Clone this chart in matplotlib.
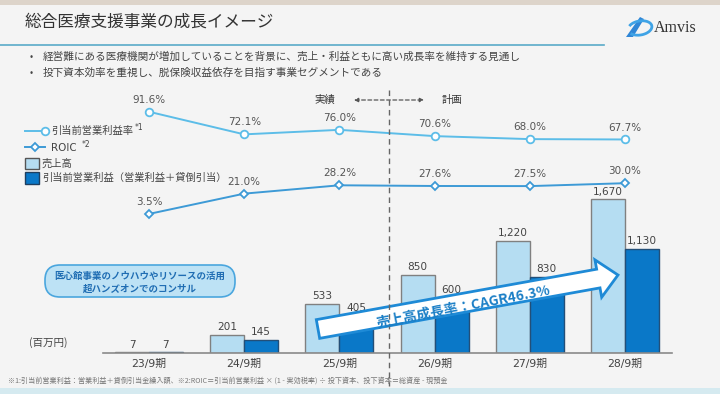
import matplotlib
matplotlib.use("Agg")
import numpy as np
import matplotlib.pyplot as plt
from matplotlib.patches import FancyArrow, FancyBboxPatch, Rectangle, Polygon, Arc

JP = ['Noto Sans CJK JP', 'DejaVu Sans']
NUM = ['DejaVu Sans', 'Noto Sans CJK JP']
plt.rcParams['font.family'] = JP

# data
periods = ['23/9期', '24/9期', '25/9期', '26/9期', '27/9期', '28/9期']
sales = [7, 201, 533, 850, 1220, 1670]            # 売上高 (百万円)
profit = [7, 145, 405, 600, 830, 1130]            # 引当前営業利益 (百万円)
margin = [91.6, 72.1, 76.0, 70.6, 68.0, 67.7]     # 引当前営業利益率 (%)
roic = [3.5, 21.0, 28.2, 27.6, 27.5, 30.0]        # ROIC (%)

title = '総合医療支援事業の成長イメージ'
bullets = ['経営難にある医療機関が増加していることを背景に、売上・利益ともに高い成長率を維持する見通し',
           '投下資本効率を重視し、脱保険収益依存を目指す事業セグメントである']
footnote = ('※1:引当前営業利益：営業利益＋貸倒引当金繰入額、※2:ROIC＝引当前営業利益 × (1 - 実効税率) '
            '÷ 投下資本、投下資本＝総資産 - 現預金')

W, H = 720, 394
C_LIGHT = '#b5ddf2'
C_DARK = '#0a78c8'
C_MARGIN = '#5cbde8'
C_ROIC = '#3d9ad6'
C_TXT = '#444444'

fig = plt.figure(figsize=(W / 100, H / 100), dpi=100, facecolor='#f4f4f4')


def px_axes(left, top, right, bottom):
    # axes rectangle given in pixel coords (origin top-left)
    return fig.add_axes([left / W, (H - bottom) / H, (right - left) / W, (bottom - top) / H])


x = np.arange(len(periods))
xlim = (-0.483, 5.494)
bw = 0.357

# bars
ax = px_axes(103, 187, 672, 353)
ax.set_facecolor('none')
ax.bar(x - bw / 2, sales, bw, color=C_LIGHT, edgecolor='#808080', linewidth=1)
ax.bar(x + bw / 2, profit, bw, color=C_DARK, edgecolor='#234f78', linewidth=1)
for xi, s, p in zip(x, sales, profit):
    ax.annotate(f'{s:,}', (xi - bw / 2, s), xytext=(0, 2), textcoords='offset points',
                ha='center', va='bottom', fontsize=7.6, color=C_TXT, family=NUM)
    ax.annotate(f'{p:,}', (xi + bw / 2, p), xytext=(0, 2), textcoords='offset points',
                ha='center', va='bottom', fontsize=7.6, color=C_TXT, family=NUM)
ax.set_xlim(*xlim)
ax.set_ylim(0, 166 / 0.092)
for s in ['top', 'right', 'left']:
    ax.spines[s].set_visible(False)
ax.spines['bottom'].set_color('#8a8a8a')
ax.spines['bottom'].set_linewidth(1.2)
ax.set_yticks([])
ax.set_xticks(x, periods)
ax.tick_params(axis='x', length=0, pad=4, labelsize=7.8, labelcolor=C_TXT)
for lab in ax.get_xticklabels():
    lab.set_family(NUM)

# ratio lines
ax2 = px_axes(103, 100, 672, 230)
ax2.set_facecolor('none')
ax2.axis('off')
ax2.set_xlim(*xlim)
ax2.set_ylim((218 - 230) / 1.16, (218 - 100) / 1.16)
ax2.plot(x, margin, color=C_MARGIN, lw=1.4, marker='o', ms=5.5, mfc='white', mec=C_MARGIN, mew=1.3)
ax2.plot(x, roic, color=C_ROIC, lw=1.4, marker='D', ms=4.5, mfc='white', mec=C_ROIC, mew=1.3)
for xi, m, r in zip(x, margin, roic):
    ax2.annotate(f'{m:.1f}%', (xi, m), xytext=(0, 5), textcoords='offset points',
                 ha='center', va='bottom', fontsize=7.5, color='#555555', family=NUM)
    ax2.annotate(f'{r:.1f}%', (xi, r), xytext=(0, 5), textcoords='offset points',
                 ha='center', va='bottom', fontsize=7.5, color='#555555', family=NUM)

# overlay in pixel coordinates for slide decorations
ov = fig.add_axes([0, 0, 1, 1], zorder=5)
ov.set_xlim(0, W)
ov.set_ylim(H, 0)
ov.axis('off')
ov.set_facecolor('none')

ov.add_patch(Rectangle((0, 0), W, 5, color='#ddd4ca', lw=0))
ov.add_patch(Rectangle((0, 388), W, 6, color='#d5eaf0', lw=0))
ov.text(25, 22, title, fontsize=12, va='center', color='#333333')
ov.plot([0, 604], [45, 45], color='#5aaac8', lw=1.2)
for i, b in enumerate(bullets):
    yy = 57 + 16 * i
    ov.text(30, yy, '•', fontsize=7, va='center', color=C_TXT)
    ov.text(43, yy, b, fontsize=7.65, va='center', color=C_TXT)

# logo
ov.add_patch(Polygon([[626, 37], [640, 17], [644, 19], [633, 37]], closed=True, color='#2f86d6', lw=0))
ov.add_patch(Arc((640, 28), 24, 14, angle=-10, theta1=200, theta2=520, color='#3fa3e6', lw=2))
ov.text(654, 28, 'Amvis', fontsize=11.5, va='center', family='Liberation Serif', color='#333333')

# legend
ov.plot([25, 45], [131, 131], color=C_MARGIN, lw=1.4, marker='o', ms=5.5, mfc='white',
        mec=C_MARGIN, mew=1.3, markevery=[1], clip_on=False)
ov.plot([25, 35, 45], [147, 147, 147], color=C_ROIC, lw=1.4, marker='D', ms=4.5, mfc='white',
        mec=C_ROIC, mew=1.3, markevery=[1])
ov.text(51, 131, '引当前営業利益率', fontsize=7.4, va='center', color=C_TXT)
ov.text(135, 127, '*1', fontsize=5.5, va='center', color=C_TXT, family=NUM)
ov.text(51, 148, 'ROIC', fontsize=7.4, va='center', color=C_TXT, family=NUM)
ov.text(82, 144, '*2', fontsize=5.5, va='center', color=C_TXT, family=NUM)
ov.add_patch(Rectangle((25, 158), 14, 11, fc=C_LIGHT, ec='#555555', lw=1))
ov.add_patch(Rectangle((25, 172), 14, 12, fc=C_DARK, ec='#1e3f60', lw=1))
ov.text(42, 164, '売上高', fontsize=7.4, va='center', color=C_TXT)
ov.text(42, 178, '引当前営業利益（営業利益＋貸倒引当）', fontsize=7.4, va='center', color=C_TXT)

# actual / plan divider
ov.plot([389, 389], [90, 386], color='#666666', lw=1, ls=(0, (4, 3)))
ov.text(325, 100, '実績', fontsize=7.5, ha='center', va='center', color='#333333')
ov.text(452, 100, '計画', fontsize=7.5, ha='center', va='center', color='#333333')
ov.annotate('', xy=(424, 100), xytext=(354, 100),
            arrowprops=dict(arrowstyle='<|-|>', color='#555555', lw=0.9, ls=(0, (3, 2)),
                            mutation_scale=6, shrinkA=0, shrinkB=0))

# callout box
ov.add_patch(FancyBboxPatch((45, 265), 190, 32, boxstyle='round,pad=0,rounding_size=15',
                            fc='#bde2f5', ec='#4aa6de', lw=1.2))
ov.text(140, 275.5, '医心館事業のノウハウやリソースの活用', fontsize=6.8, fontweight='bold',
        ha='center', va='center', color='#1f6db3')
ov.text(140, 288.5, '超ハンズオンでのコンサル', fontsize=6.8, fontweight='bold',
        ha='center', va='center', color='#1f6db3')

ov.text(48, 343, '(百万円)', fontsize=7.6, ha='center', va='center', color=C_TXT)

# growth arrow
ov.add_patch(FancyArrow(318, 329, 300, -54, width=19, head_width=38, head_length=20,
                        length_includes_head=True, fc='white', ec='#1e8ad6', lw=2))
ov.text(463, 307, '売上高成長率：CAGR46.3%', rotation=11, rotation_mode='anchor',
        ha='center', va='center', fontsize=10, fontweight='bold', style='italic',
        color='#1b7fc6')

ov.text(8, 381, footnote, fontsize=5.1, va='center', color='#777777')

fig.savefig('out.png', dpi=100, facecolor=fig.get_facecolor())
